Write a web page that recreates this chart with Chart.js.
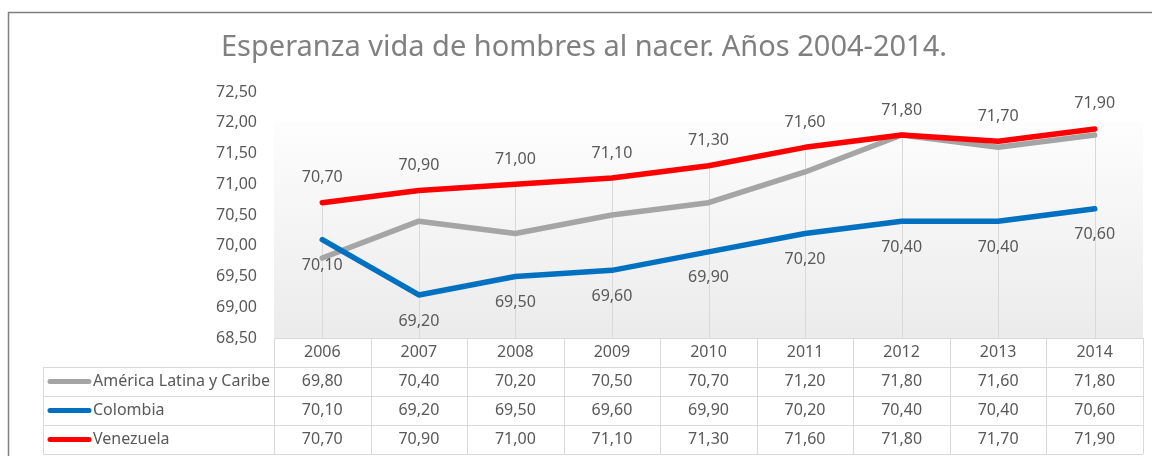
<!DOCTYPE html>
<html>
<head>
<meta charset="utf-8">
<script src="https://cdn.jsdelivr.net/npm/chart.js@4/dist/chart.umd.min.js"></script>
<style>
    body { margin: 0; background: #ffffff; }
    #chart { display: block; }
</style>
</head>
<body>
<canvas id="chart" width="1152" height="456"></canvas>
<script>
const TITLE = 'Esperanza vida de hombres al nacer. Años 2004-2014.';
const years = ['2006', '2007', '2008', '2009', '2010', '2011', '2012', '2013', '2014'];
const seriesNames = ['América Latina y Caribe', 'Colombia', 'Venezuela'];
const americaLatina = [69.80, 70.40, 70.20, 70.50, 70.70, 71.20, 71.80, 71.60, 71.80];
const colombia = [70.10, 69.20, 69.50, 69.60, 69.90, 70.20, 70.40, 70.40, 70.60];
const venezuela = [70.70, 70.90, 71.00, 71.10, 71.30, 71.60, 71.80, 71.70, 71.90];
const seriesColors = ['#a5a5a5', '#0070c0', '#ff0000'];

const FONT = '"Noto Sans", sans-serif';
const TEXT = '#595959';
const GRID = '#d9d9d9';

const fmt = v => v.toFixed(2).replace('.', ',');

// background, drop lines, title and frame
const decor =
{
    id: 'decor',
    beforeDatasetsDraw(chart)
    {
        const ctx = chart.ctx;
        const area = chart.chartArea;
        const y = chart.scales.y;
        const x = chart.scales.x;
        const top = y.getPixelForValue(72);

        ctx.save();
        const grad = ctx.createLinearGradient(0, top, 0, area.bottom);
        grad.addColorStop(0, '#fdfdfd');
        grad.addColorStop(1, '#ebebeb');
        ctx.fillStyle = grad;
        ctx.fillRect(area.left, top, area.right - area.left, area.bottom - top);

        // drop lines
        ctx.strokeStyle = GRID;
        ctx.lineWidth = 1;
        years.forEach((_, i) =>
        {
            const hi = Math.max(americaLatina[i], colombia[i], venezuela[i]);
            const px = Math.round(x.getPixelForValue(i)) + 0.5;
            ctx.beginPath();
            ctx.moveTo(px, y.getPixelForValue(hi));
            ctx.lineTo(px, area.bottom);
            ctx.stroke();
        });
        ctx.restore();
    },
    afterDraw(chart)
    {
        const ctx = chart.ctx;
        ctx.save();
        ctx.fillStyle = '#808080';
        ctx.font = '29px ' + FONT;
        ctx.textAlign = 'center';
        ctx.textBaseline = 'middle';
        ctx.fillText(TITLE, 584, 48);

        ctx.strokeStyle = '#7f7f7f';
        ctx.lineWidth = 1.5;
        ctx.beginPath();
        ctx.moveTo(8.5, 456);
        ctx.lineTo(8.5, 12.5);
        ctx.lineTo(1152, 12.5);
        ctx.stroke();
        ctx.restore();
    }
};

// value labels: red above, blue below
const valueLabels =
{
    id: 'valueLabels',
    afterDatasetsDraw(chart)
    {
        const ctx = chart.ctx;
        ctx.save();
        ctx.font = '16px ' + FONT;
        ctx.fillStyle = TEXT;
        ctx.textAlign = 'center';
        ctx.textBaseline = 'middle';
        const spec = [[1, 26], [2, -25]];
        for (const [ds, off] of spec)
        {
            const meta = chart.getDatasetMeta(ds);
            meta.data.forEach((pt, i) =>
            {
                ctx.fillText(fmt(chart.data.datasets[ds].data[i]), pt.x, pt.y + off);
            });
        }
        ctx.restore();
    }
};

// data table under the chart
const dataTable =
{
    id: 'dataTable',
    afterDraw(chart)
    {
        const ctx = chart.ctx;
        const area = chart.chartArea;
        const x = chart.scales.x;
        const colW = (area.right - area.left) / years.length;
        const rowH = 29;
        const top = area.bottom;
        const labelLeft = 43;
        const bottom = top + rowH * 4;

        ctx.save();
        ctx.strokeStyle = GRID;
        ctx.lineWidth = 1;
        ctx.beginPath();
        // header row top
        ctx.moveTo(area.left, top + 0.5);
        ctx.lineTo(area.right, top + 0.5);
        for (let r = 1; r <= 4; r++)
        {
            const yy = Math.round(top + rowH * r) + 0.5;
            ctx.moveTo(labelLeft, yy);
            ctx.lineTo(area.right, yy);
        }
        ctx.moveTo(labelLeft + 0.5, top + rowH);
        ctx.lineTo(labelLeft + 0.5, bottom);
        for (let c = 0; c <= years.length; c++)
        {
            const xx = Math.round(area.left + colW * c) + 0.5;
            ctx.moveTo(xx, top);
            ctx.lineTo(xx, bottom);
        }
        ctx.stroke();

        ctx.font = '16px ' + FONT;
        ctx.fillStyle = TEXT;
        ctx.textAlign = 'center';
        ctx.textBaseline = 'middle';
        years.forEach((yr, i) =>
        {
            ctx.fillText(yr, x.getPixelForValue(i), top + rowH / 2);
        });

        chart.data.datasets.forEach((ds, r) =>
        {
            const cy = top + rowH * (r + 1) + rowH / 2;
            ds.data.forEach((v, i) =>
            {
                ctx.fillText(fmt(v), x.getPixelForValue(i), cy);
            });

            ctx.strokeStyle = ds.borderColor;
            ctx.lineWidth = 5;
            ctx.lineCap = 'round';
            ctx.beginPath();
            ctx.moveTo(50, cy);
            ctx.lineTo(89, cy);
            ctx.stroke();

            ctx.textAlign = 'left';
            ctx.fillText(ds.label, 93, cy);
            ctx.textAlign = 'center';
        });
        ctx.restore();
    }
};

const seriesData = [americaLatina, colombia, venezuela];

const config =
{
    type: 'line',
    data:
    {
        labels: years,
        datasets: seriesNames.map((name, i) => (
        {
            label: name,
            data: seriesData[i],
            borderColor: seriesColors[i],
            borderWidth: 5.5,
            borderCapStyle: 'round',
            borderJoinStyle: 'round',
            pointRadius: 0,
            tension: 0,
            order: 2 - i
        }))
    },
    options:
    {
        responsive: false,
        animation: false,
        layout:
        {
            padding: { top: 92, left: 0, right: 9, bottom: 0 }
        },
        plugins:
        {
            legend: { display: false },
            title: { display: false },
            tooltip: { enabled: false }
        },
        scales:
        {
            x:
            {
                offset: true,
                grid: { display: false, drawTicks: false },
                border: { display: false },
                ticks: { display: false },
                afterFit: scale => { scale.height = 118; }
            },
            y:
            {
                min: 68.5,
                max: 72.5,
                grid: { display: false, drawTicks: false },
                border: { display: false },
                ticks:
                {
                    stepSize: 0.5,
                    padding: 17,
                    color: TEXT,
                    font: { family: FONT, size: 16 },
                    callback: v => fmt(v)
                },
                afterFit: scale => { scale.width = 274; }
            }
        }
    },
    plugins: [decor, valueLabels, dataTable]
};

new Chart(document.getElementById('chart').getContext('2d'), config);
</script>
</body>
</html>
